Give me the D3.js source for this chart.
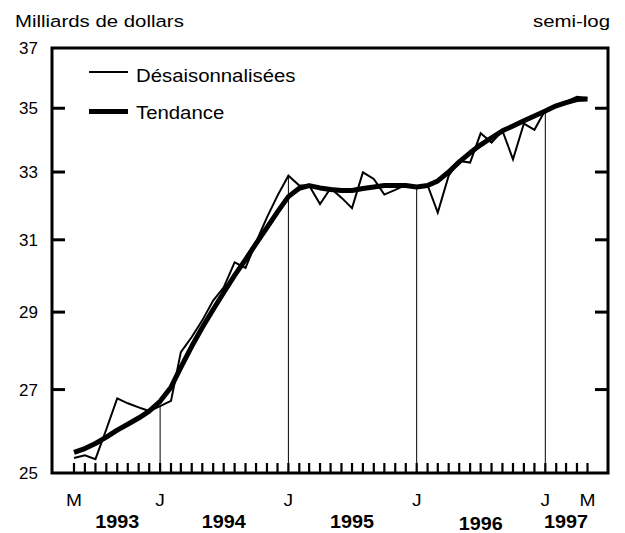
<!DOCTYPE html>
<html>
<head>
<meta charset="utf-8">
<script src="https://cdn.jsdelivr.net/npm/d3@7"></script>
<style>
  body { margin: 0; background: #fff; }
  svg { display: block; font-family: "Liberation Sans", Arial, sans-serif; }
</style>
</head>
<body>
<div class="chart"></div>
<script>
// data: monthly, May 1993 .. May 1997, billions of dollars
var months = d3.timeMonths(new Date(1993, 4, 1), new Date(1997, 5, 1));

var seasAdj = [25.35, 25.41, 25.32, 26.03, 26.78, 26.66, 26.56, 26.47, 26.59, 26.72,
  27.95, 28.34, 28.78, 29.31, 29.67, 30.36, 30.21, 30.93, 31.65, 32.29,
  32.89, 32.59, 32.59, 32.04, 32.51, 32.23, 31.92, 32.99, 32.79, 32.32,
  32.46, 32.61, 32.57, 32.60, 31.79, 32.89, 33.34, 33.29, 34.20, 33.91,
  34.28, 33.39, 34.51, 34.31, 34.94, 35.08, 35.21, 35.37, 35.33];

var trend = [25.48, 25.57, 25.69, 25.84, 26.01, 26.15, 26.30, 26.47, 26.71, 27.06,
  27.56, 28.10, 28.59, 29.07, 29.53, 30.00, 30.44, 30.89, 31.35, 31.81,
  32.26, 32.51, 32.59, 32.52, 32.47, 32.44, 32.44, 32.50, 32.55, 32.59,
  32.59, 32.59, 32.55, 32.59, 32.73, 33.00, 33.31, 33.59, 33.84, 34.06,
  34.28, 34.43, 34.60, 34.75, 34.91, 35.08, 35.18, 35.28, 35.30];

var yTicks = [25, 27, 29, 31, 33, 35, 37];
var monthLabels = [
  {date: new Date(1993, 4, 1), label: "M"},
  {date: new Date(1994, 0, 1), label: "J"},
  {date: new Date(1995, 0, 1), label: "J"},
  {date: new Date(1996, 0, 1), label: "J"},
  {date: new Date(1997, 0, 1), label: "J"},
  {date: new Date(1997, 4, 1), label: "M"}
];
var yearLabels = [
  {date: new Date(1993, 8, 1), label: "1993"},
  {date: new Date(1994, 6, 1), label: "1994"},
  {date: new Date(1995, 6, 1), label: "1995"},
  {date: new Date(1996, 6, 1), label: "1996"},
  {date: new Date(1997, 2, 1), label: "1997"}
];
var januaries = [new Date(1994, 0, 1), new Date(1995, 0, 1), new Date(1996, 0, 1), new Date(1997, 0, 1)];

// layout
var width = 625, height = 533;
var frame = {left: 52, right: 608, top: 48, bottom: 473};

var svg = d3.select(".chart").append("svg")
    .attr("width", width)
    .attr("height", height);

var x = d3.scaleTime()
    .domain([months[0], months[months.length - 1]])
    .range([74, 587.5]);

var y = d3.scaleLog()
    .domain([25, 37])
    .range([frame.bottom, frame.top]);

// the original lettering is a bit wide, so stretch it horizontally
function label(g, tx, ty, txt, size, sx, anchor, bold) {
  return g.append("text")
    .attr("transform", `translate(${tx},${ty}) scale(${sx},1)`)
    .attr("font-size", size)
    .attr("text-anchor", anchor || "start")
    .attr("font-weight", bold ? "bold" : null)
    .text(txt);
}

// titles
label(svg, 15, 27, "Milliards de dollars", 17, 1.2);
label(svg, 610, 27, "semi-log", 17, 1.2, "end");

// y labels
svg.append("g").selectAll("text")
    .data(yTicks)
    .join("text")
    .attr("x", 38)
    .attr("y", d => y(d) + 6)
    .attr("text-anchor", "end")
    .attr("font-size", 17)
    .text(d => d);

// y ticks, both sides, inward
var inner = yTicks.slice(1, -1);
svg.append("g").attr("stroke", "#000").attr("stroke-width", 3)
    .selectAll("line")
    .data(inner)
    .join("line")
    .attr("x1", frame.left).attr("x2", frame.left + 13)
    .attr("y1", d => y(d)).attr("y2", d => y(d));
svg.append("g").attr("stroke", "#000").attr("stroke-width", 3)
    .selectAll("line")
    .data(inner)
    .join("line")
    .attr("x1", frame.right - 13).attr("x2", frame.right)
    .attr("y1", d => y(d)).attr("y2", d => y(d));

// monthly ticks on the bottom
svg.append("g").attr("stroke", "#000").attr("stroke-width", 2.2)
    .selectAll("line")
    .data(months)
    .join("line")
    .attr("x1", d => x(d)).attr("x2", d => x(d))
    .attr("y1", frame.bottom).attr("y2", frame.bottom - 10);

// january markers up to the series
svg.append("g").attr("stroke", "#000").attr("stroke-width", 1)
    .selectAll("line")
    .data(januaries)
    .join("line")
    .attr("x1", d => x(d)).attr("x2", d => x(d))
    .attr("y1", frame.bottom)
    .attr("y2", d => y(seasAdj[d3.bisectLeft(months, d)]));

// month / year labels
var mg = svg.append("g");
monthLabels.forEach(d => label(mg, x(d.date), 506, d.label, 16, 1.2, "middle"));
var yg = svg.append("g");
yearLabels.forEach(d => label(yg, x(d.date), d.label == "1996" ? 530 : 528, d.label, 18, 1.1, "middle", true));

// series
var line = d3.line()
    .x((d, i) => x(months[i]))
    .y(d => y(d));

svg.append("path")
    .attr("fill", "none").attr("stroke", "#000")
    .attr("stroke-width", 5).attr("stroke-linejoin", "round")
    .attr("d", line(trend));

svg.append("path")
    .attr("fill", "none").attr("stroke", "#000")
    .attr("stroke-width", 2).attr("stroke-linejoin", "miter")
    .attr("d", line(seasAdj));

// frame
svg.append("rect")
    .attr("x", frame.left).attr("y", frame.top)
    .attr("width", frame.right - frame.left)
    .attr("height", frame.bottom - frame.top)
    .attr("fill", "none").attr("stroke", "#000").attr("stroke-width", 3);

// legend
var legend = [
  {label: "Désaisonnalisées", w: 2, y: 72, base: 81.5},
  {label: "Tendance", w: 5, y: 111.5, base: 119}
];
var lg = svg.append("g");
legend.forEach(d => {
  lg.append("line")
    .attr("x1", 89).attr("x2", 128)
    .attr("y1", d.y).attr("y2", d.y)
    .attr("stroke", "#000").attr("stroke-width", d.w);
  label(lg, 136, d.base, d.label, 18.5, 1.1);
});
</script>
</body>
</html>
